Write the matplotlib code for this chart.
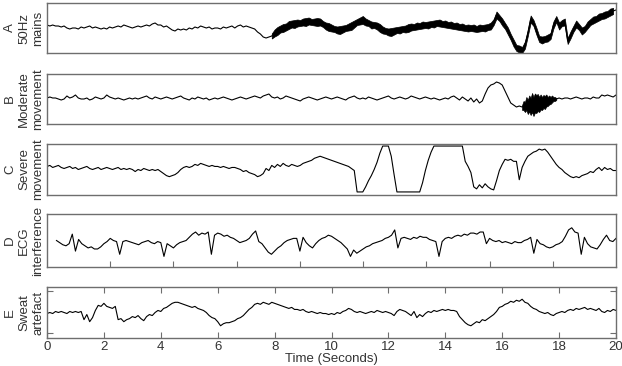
import numpy as np
import matplotlib.pyplot as plt

plt.rcParams['font.family'] = ['Liberation Sans', 'DejaVu Sans']

# traces sampled every 0.1 s, values read off the picture in panel units
# (0 = bottom edge of the box, 50 = top edge)

# A - 50Hz mains
mains = [28, 27, 28, 27, 27, 26, 27, 25, 24, 25, 25, 24, 26, 25, 26, 27, 25, 26, 25, 24,
         25, 24, 26, 25, 26, 27, 26, 28, 27, 26, 25, 26, 27, 26, 27, 28, 27, 29, 30, 28,
         28, 26, 27, 25, 23, 22, 24, 23, 24, 23, 25, 24, 26, 25, 27, 26, 25, 26, 24, 25,
         25, 24, 26, 25, 26, 27, 25, 27, 28, 26, 27, 26, 25, 24, 21, 19, 16, 15, 16, 17,
         20, 22, 24, 25, 26, 28, 29, 29, 30, 30, 31, 31, 32, 31, 31, 31, 31, 29, 27, 26,
         25, 24, 23, 23, 24, 25, 26, 27, 29, 31, 32, 33, 31, 30, 28, 28, 27, 25, 23, 22,
         21, 21, 22, 23, 23, 24, 24, 25, 26, 26, 27, 27, 28, 28, 28, 29, 29, 30, 30, 29,
         29, 28, 28, 27, 27, 26, 26, 25, 25, 25, 25, 24, 25, 25, 25, 26, 27, 31, 38, 35,
         31, 27, 22, 16, 10, 5, 4, 3, 8, 20, 34, 30, 22, 14, 13, 14, 15, 17, 28, 34,
         27, 30, 31, 12, 18, 24, 29, 26, 22, 24, 28, 31, 33, 34, 36, 37, 38, 39, 41, 42,
         43]
mains_onset = 7.9     # s, where the 50 Hz band starts
# half thickness of the band, read every 0.1 s from the onset
mains_half = [2.5, 3.5, 4, 3.5, 4, 3.5, 4, 3.5, 4, 3.5, 3, 3.5, 4, 3.5, 3, 3.5, 4, 3.5, 3, 3.5,
              4, 3.5, 3, 3.5, 4, 3.5, 3, 3.5, 4, 3.5, 3, 3.5, 4, 3.5, 3, 3.5, 3, 3.5, 4, 3.5,
              3, 3.5, 4, 3.5, 3, 3.5, 3, 3.5, 4, 3.5, 3, 3.5, 3, 3.5, 3, 3.5, 3, 3.5, 3, 3.5,
              3, 3.5, 3, 3.5, 3, 3.5, 3, 3.5, 3, 3.5, 3, 3.5, 3, 3.5, 3, 3.5, 3, 3.5, 3, 3.5,
              3, 3.5, 3, 3.5, 3, 3.5, 3, 3.5, 3, 3.5, 3, 3.5, 3, 3.5, 3, 3.5, 3, 3.5, 3, 3.5,
              3, 3.5, 3, 3.5, 3, 3.5, 3, 3.5, 3, 3.5, 3, 3.5, 3, 3.5, 3, 3.5, 3, 3.5, 3, 3.5, 3]

# B - moderate movement
moderate = [26, 27, 26, 26, 25, 24, 25, 28, 26, 27, 29, 26, 25, 25, 26, 24, 25, 27, 26, 25,
            26, 29, 27, 26, 25, 26, 25, 24, 25, 26, 25, 26, 25, 26, 27, 28, 26, 25, 27, 26,
            25, 26, 27, 26, 25, 26, 27, 28, 26, 25, 24, 26, 25, 27, 26, 25, 26, 24, 25, 26,
            25, 26, 27, 26, 25, 24, 25, 26, 27, 26, 25, 26, 27, 28, 27, 26, 28, 29, 30, 27,
            26, 27, 25, 26, 28, 27, 26, 25, 24, 23, 25, 26, 27, 26, 25, 24, 25, 26, 27, 26,
            25, 26, 27, 26, 25, 24, 26, 27, 28, 26, 25, 26, 25, 27, 26, 25, 24, 25, 26, 27,
            28, 26, 25, 26, 27, 26, 25, 26, 28, 27, 26, 25, 26, 27, 26, 25, 26, 25, 24, 25,
            26, 25, 27, 28, 26, 24, 27, 25, 23, 26, 22, 25, 21, 23, 30, 36, 39, 40, 42, 41,
            39, 33, 27, 21, 19, 17, 18, 17, 19, 19, 20, 20, 21, 21, 22, 22, 23, 24, 25, 25,
            26, 25, 26, 26, 25, 26, 27, 26, 25, 26, 26, 25, 27, 26, 26, 29, 28, 29, 28, 27,
            29]
burst_onset = 16.7
# upper / lower excursions of the burst, every 0.05 s
burst_hi = [2, 5, 3, 8, 5, 9, 6, 11, 7, 10, 8, 9, 6, 8, 5, 7, 6, 7, 4, 5, 3, 4, 2, 2, 1]
burst_lo = [3, 4, 7, 5, 9, 7, 11, 8, 12, 9, 10, 8, 9, 7, 8, 6, 7, 5, 5, 4, 4, 3, 2, 2, 1]

# C - severe movement (clips at both rails)
severe = [28, 29, 27, 28, 29, 27, 26, 27, 28, 26, 27, 25, 26, 27, 28, 26, 25, 26, 27, 25,
          26, 27, 26, 25, 26, 27, 25, 26, 25, 26, 25, 23, 25, 24, 26, 25, 24, 25, 24, 25,
          23, 21, 19, 18, 19, 20, 22, 25, 27, 28, 27, 28, 30, 29, 31, 30, 29, 28, 29, 28,
          28, 27, 28, 27, 26, 27, 27, 26, 25, 23, 24, 22, 21, 20, 18, 19, 21, 26, 24, 29,
          27, 30, 28, 31, 29, 28, 30, 29, 28, 29, 31, 32, 33, 34, 36, 37, 38, 37, 36, 35,
          34, 33, 32, 31, 30, 29, 28, 26, 24, 3, 3, 3, 8, 14, 19, 25, 32, 41, 48, 48,
          48, 38, 20, 3, 3, 3, 3, 3, 3, 3, 3, 3, 12, 24, 34, 42, 48, 48, 48, 48,
          48, 48, 48, 48, 48, 48, 48, 33, 28, 22, 8, 6, 10, 7, 11, 8, 6, 5, 14, 24,
          30, 35, 34, 35, 33, 33, 15, 27, 33, 38, 40, 42, 43, 45, 44, 45, 42, 38, 34, 30,
          27, 25, 22, 20, 18, 17, 18, 17, 19, 20, 21, 23, 22, 25, 27, 24, 27, 25, 26, 24,
          24]

# D - ECG interference, own time axis 0.3 .. 18 s
ecg_start, ecg_end = 0.3, 18.0
ecg = [25, 23, 21, 20, 22, 31, 15,
       26, 22, 20, 18, 19, 17, 17, 19, 22, 24,
       27, 25, 24, 12, 24, 25, 24, 23, 22, 21,
       23, 24, 25, 23, 22, 24, 23, 10, 22, 20,
       18, 21, 23, 24, 25, 28, 31, 33, 30, 32,
       31, 33, 12, 30, 32, 31, 29, 30, 28, 27,
       25, 23, 24, 25, 27, 31, 34, 24, 22, 18,
       14, 12, 15, 18, 20, 23, 25, 26, 27, 27,
       15, 28, 23, 20, 18, 22, 25, 27, 28, 30,
       29, 27, 25, 23, 20, 17, 10, 16, 13, 15,
       17, 19, 20, 22, 23, 24, 25, 27, 28, 30,
       35, 18, 27, 28, 27, 26, 28, 27, 29, 28,
       28, 26, 25, 24, 10, 24, 27, 28, 27, 29,
       30, 29, 31, 30, 32, 32, 31, 33, 33, 22,
       27, 25, 24, 25, 23, 24, 23, 22, 24, 23,
       23, 25, 26, 28, 13, 26, 22, 21, 19, 18,
       19, 21, 22, 24, 29, 35, 37, 33, 32, 12,
       28, 22, 19, 18, 17, 21, 26, 30, 25, 24,
       27]

# E - sweat artefact
sweat = [24, 25, 24, 26, 25, 26, 25, 24, 26, 25, 26, 25, 26, 18, 23, 16, 20, 27, 32, 31,
         34, 31, 30, 29, 31, 18, 19, 16, 18, 19, 21, 20, 22, 19, 17, 21, 23, 22, 25, 27,
         26, 29, 30, 32, 34, 35, 35, 34, 33, 32, 31, 30, 31, 29, 28, 27, 25, 22, 20, 19,
         16, 12, 14, 15, 15, 16, 17, 19, 20, 22, 25, 28, 30, 33, 34, 33, 35, 34, 33, 35,
         34, 33, 32, 31, 30, 29, 30, 28, 28, 27, 28, 26, 25, 26, 25, 24, 25, 24, 24, 23,
         24, 23, 25, 24, 26, 27, 29, 28, 26, 25, 26, 25, 24, 25, 26, 25, 27, 26, 25, 26,
         25, 24, 22, 26, 28, 27, 26, 24, 22, 26, 20, 23, 21, 24, 26, 25, 27, 26, 27, 28,
         27, 28, 27, 27, 26, 21, 18, 15, 13, 12, 14, 16, 15, 18, 17, 19, 21, 23, 26, 30,
         31, 33, 34, 36, 35, 37, 36, 38, 35, 34, 31, 29, 28, 26, 25, 24, 25, 23, 22, 24,
         25, 26, 25, 27, 28, 27, 29, 28, 29, 30, 28, 29, 28, 27, 29, 26, 25, 27, 26, 28,
         27]

labels = [['A', '50Hz', 'mains'], ['B', 'Moderate', 'movement'],
          ['C', 'Severe', 'movement'], ['D', 'ECG', 'interference'],
          ['E', 'Sweat', 'artefact']]
xticks = [0, 2, 4, 6, 8, 10, 12, 14, 16, 18, 20]

W, H = 622, 366
fig = plt.figure(figsize=(W / 100, H / 100), dpi=100)

# panel boxes in pixels (top, bottom)
boxes = [(3, 53), (74, 124), (144, 195), (214, 267), (287, 338)]
x0, x1 = 47, 616
label_x = [10, 24, 38]   # pixel columns of the three rotated label lines
frame_col = '#6e6e6e'
text_col = '#333333'
axes = []
for (top, bot), lab in zip(boxes, labels):
    ax = fig.add_axes([x0 / W, 1 - bot / H, (x1 - x0) / W, (bot - top) / H])
    ax.set_ylim(0, 50)
    ax.set_xlim(0, 20)
    for s in ax.spines.values():
        s.set_color(frame_col)
        s.set_linewidth(1.0)
    ax.tick_params(direction='in', length=4, color=frame_col, width=0.8,
                   labelsize=9.5, labelcolor=text_col)
    ax.set_xticks([])
    ax.set_yticks([])
    for lx, line in zip(label_x, lab):
        fig.text(lx / W, 1 - (top + bot) / 2 / H, line, rotation=90, ha='center',
                 va='center', fontsize=9.5, color=text_col)
    axes.append(ax)

t = np.linspace(0, 20, len(mains))
lw = 0.8

# A
a = np.array(mains, dtype=float)
axes[0].plot(t, a, color='black', lw=lw)
ta = mains_onset + 0.1 * np.arange(len(mains_half))
ia = np.searchsorted(t, ta - 1e-9)
hw = np.array(mains_half)
axes[0].fill_between(ta, a[ia] - hw, a[ia] + hw, color='black', lw=0.5)

# B
b = np.array(moderate, dtype=float)
axes[1].plot(t, b, color='black', lw=lw)
tb = burst_onset + 0.05 * np.arange(len(burst_hi))
bc = np.interp(tb, t, b)
axes[1].fill_between(tb, bc - np.array(burst_lo), bc + np.array(burst_hi),
                     color='black', lw=0.5)

# C
axes[2].plot(t, severe, color='black', lw=lw)

# D (own time scale)
td = np.linspace(ecg_start, ecg_end, len(ecg))
axes[3].plot(td, ecg, color='black', lw=lw)
axes[3].set_xlim(0, 18)
axes[3].set_xticks(range(2, 18, 2))
axes[3].tick_params(axis='x', bottom=True, labelbottom=False)

# E
axes[4].plot(t, sweat, color='black', lw=lw)
axes[4].set_xticks(xticks)
axes[4].set_yticks([5, 46])
axes[4].set_yticklabels([])
axes[4].tick_params(top=True, right=True, bottom=True, left=True,
                    labelbottom=True, pad=2)
axes[4].set_xlabel('Time (Seconds)', fontsize=9.5, color=text_col, labelpad=0)

fig.savefig('out.png', dpi=100)
